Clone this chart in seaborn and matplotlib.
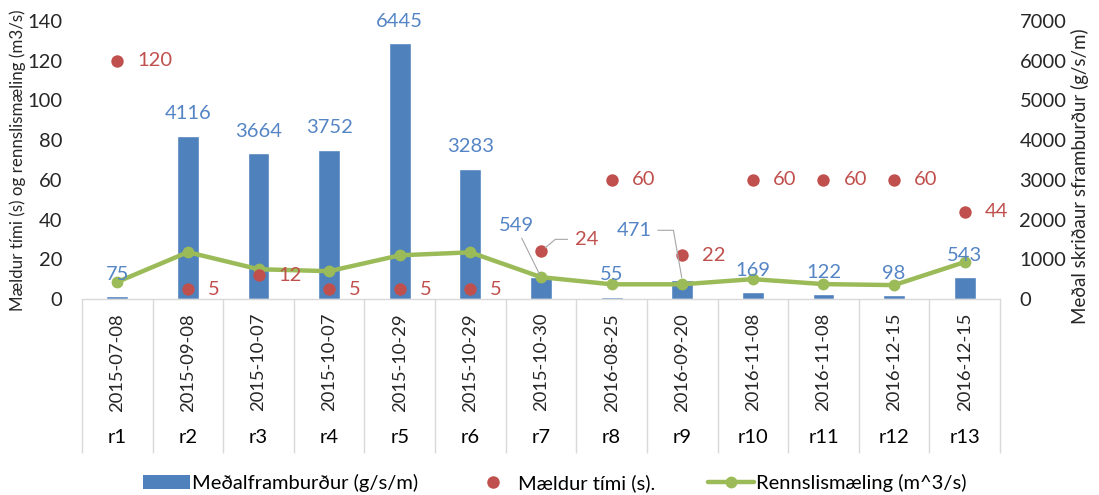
import matplotlib
matplotlib.use("Agg")
import matplotlib.pyplot as plt
import seaborn as sns
import pandas as pd
import numpy as np
from matplotlib.lines import Line2D
from matplotlib.patches import Patch

# Measurement runs
runs = ["r1", "r2", "r3", "r4", "r5", "r6", "r7", "r8", "r9", "r10", "r11", "r12", "r13"]
dates = ["2015-07-08", "2015-09-08", "2015-10-07", "2015-10-07", "2015-10-29", "2015-10-29",
         "2015-10-30", "2016-08-25", "2016-09-20", "2016-11-08", "2016-11-08", "2016-12-15",
         "2016-12-15"]
# Mean transport (g/s/m), right axis
framburdur = [75, 4116, 3664, 3752, 6445, 3283, 549, 55, 471, 169, 122, 98, 543]
# Measured time (s), left axis
maeldur_timi = [120, 5, 12, 5, 5, 5, 24, 60, 22, 60, 60, 60, 44]
# Discharge (m^3/s), left axis
rennsli = [8.6, 23.6, 15.0, 14.0, 22.0, 23.5, 11.0, 7.4, 7.4, 10.0, 7.5, 7.0, 18.6]

BLUE = "#4F81BD"
BLUE_TXT = "#5585C5"
RED = "#C0504D"
GREEN = "#9BBB59"
GRID = "#D9D9D9"
FS = 14.5        # ticks, value labels, legend
FS_DATE = 13.2   # rotated dates
FS_TITLE_L = 12.2
FS_TITLE_R = 13.5

sns.set_theme(style="white")
plt.rcParams["font.family"] = ["Lato", "DejaVu Sans"]
plt.rcParams["text.color"] = "#000000"

df = pd.DataFrame({"run": runs, "date": dates, "framburdur": framburdur,
                   "timi": maeldur_timi, "rennsli": rennsli})

W, H = 1099, 495
fig = plt.figure(figsize=(W / 100, H / 100), dpi=100)
L, R, T, B = 82, 1000, 21, 299
ax_bar = fig.add_axes([L / W, 1 - B / H, (R - L) / W, (B - T) / H])

# Bars on the transport axis (drawn underneath)
sns.barplot(data=df, x="run", y="framburdur", color=BLUE, saturation=1,
            width=0.31, ax=ax_bar, zorder=2)
ax_bar.set_ylim(0, 7000)
ax_bar.set_yticks(np.arange(0, 7001, 1000))

# Time and discharge on the left axis, on top of the bars
ax_left = ax_bar.twinx()
sns.lineplot(data=df, x="run", y="rennsli", color=GREEN, linewidth=3.2, marker="o",
             markersize=8.5, markeredgewidth=0, ax=ax_left, zorder=3, sort=False)
sns.scatterplot(data=df, x="run", y="timi", color=RED, s=80, linewidth=0,
                ax=ax_left, zorder=4)
ax_left.set_ylim(0, 140)
ax_left.set_yticks(np.arange(0, 141, 20))
ax_bar.set_xlim(-0.5, len(runs) - 0.5)

# Axis sides: transport on the right, time/discharge on the left
ax_bar.yaxis.tick_right()
ax_bar.yaxis.set_label_position("right")
ax_left.yaxis.tick_left()
ax_left.yaxis.set_label_position("left")

for a in (ax_bar, ax_left):
    for s in a.spines.values():
        s.set_visible(False)
    a.grid(False)
    a.tick_params(axis="y", length=0, labelsize=FS, pad=14)
ax_bar.spines["bottom"].set_visible(True)
ax_bar.spines["bottom"].set_color(GRID)
ax_bar.spines["bottom"].set_linewidth(1)

ax_left.set_ylabel("Mældur tími (s) og rennslismæling (m3/s)", fontsize=FS_TITLE_L)
ax_bar.set_ylabel("Meðal skriðaur sframburður (g/s/m)", fontsize=FS_TITLE_R)
ax_left.yaxis.set_label_coords((26 - L) / (R - L), (B - 160) / (B - T))
ax_bar.yaxis.set_label_coords((1071 - L) / (R - L), (B - 176) / (B - T))
ax_left.set_xlabel("")
ax_bar.set_xlabel("")

# Two-level category axis: dates, then run ids, with separators
xpos = ax_bar.get_xticks()
ax_bar.set_xticks(xpos)
ax_bar.set_xticklabels(dates, rotation=90, fontsize=FS_DATE)
ax_bar.set_xticks(np.arange(-0.5, len(runs), 1), minor=True)
ax_bar.tick_params(axis="x", which="major", length=0, pad=10)
ax_bar.tick_params(axis="x", which="minor", length=111, width=1, color=GRID,
                   direction="out", bottom=True)
for x, r in zip(xpos, runs):
    ax_bar.annotate(r, xy=(x, 0), xycoords=ax_bar.get_xaxis_transform(),
                    xytext=(0, -100), textcoords="offset points",
                    ha="center", va="center", fontsize=FS, annotation_clip=False)

# Value labels for the bars
px = 0.72
bar_offsets = {6: (-25, 52), 8: (-48, 50)}
for i, (x, v) in enumerate(zip(xpos, framburdur)):
    dx, dy = bar_offsets.get(i, (0, 22))
    kw = {}
    if i == 6:
        kw["arrowprops"] = dict(arrowstyle="-", color="#A6A6A6", lw=0.8,
                                shrinkA=1, shrinkB=2, relpos=(0.6, 0))
    elif i == 8:
        kw["arrowprops"] = dict(arrowstyle="-", color="#A6A6A6", lw=0.8,
                                shrinkA=2, shrinkB=2, relpos=(1, 0.5),
                                connectionstyle="angle,angleA=0,angleB=100,rad=0")
    ax_left.annotate(str(v), xy=(x, v), xycoords=ax_bar.transData,
                     xytext=(dx * px, dy * px), textcoords="offset points",
                     ha="center", va="center", color=BLUE_TXT, fontsize=FS,
                     zorder=6, **kw)

# Value labels for the measured time
for i, (x, v) in enumerate(zip(xpos, maeldur_timi)):
    kw = {}
    if i == 6:
        dx, dy = 34, 12
        kw["arrowprops"] = dict(arrowstyle="-", color="#A6A6A6", lw=0.8,
                                shrinkA=3, shrinkB=4, relpos=(0, 0.5),
                                connectionstyle="angle,angleA=0,angleB=40,rad=0")
    else:
        dx, dy = 20, 0
    ax_left.annotate(str(v), xy=(x, v), xytext=(dx * px, dy * px),
                     textcoords="offset points", ha="left", va="center",
                     color=RED, fontsize=FS, zorder=6, **kw)

leg_handles = [
    Patch(facecolor=BLUE, edgecolor="none"),
    Line2D([], [], color=RED, marker="o", linestyle="none", markersize=9,
           markeredgewidth=0),
    Line2D([], [], color=GREEN, marker="o", linewidth=3.2, markersize=8.5,
           markeredgewidth=0),
]
leg_labels = ["Meðalframburður (g/s/m)", "Mældur tími (s).", "Rennslismæling (m^3/s)"]
fig.legend(leg_handles, leg_labels, loc="center", bbox_to_anchor=(555 / W, 1 - 483 / H),
           ncol=3, frameon=False, fontsize=FS, handlelength=2.3, handletextpad=0.1,
           columnspacing=2.6)

fig.savefig("out.png", dpi=100, facecolor="white")
